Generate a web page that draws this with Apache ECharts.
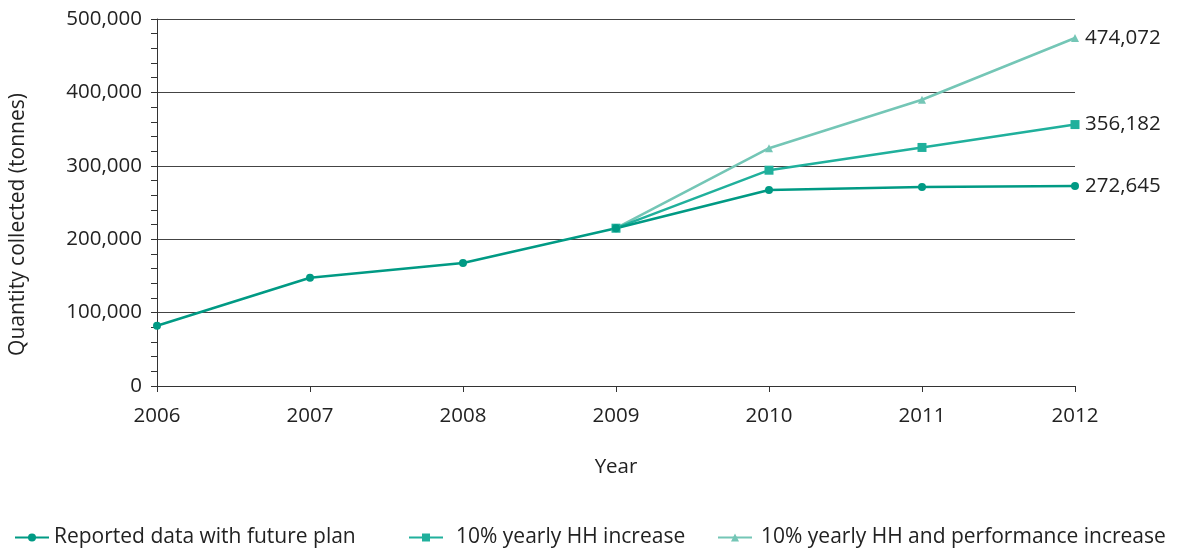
<!DOCTYPE html>
<html><head><meta charset="utf-8">
<script src="https://cdn.jsdelivr.net/npm/echarts@6/dist/echarts.min.js"></script>
<style>html,body{margin:0;padding:0;background:#fff}#c{width:1189px;height:549px}</style>
</head><body><div id="c"></div>
<script>
const years = ['2006','2007','2008','2009','2010','2011','2012'];
const reported = [82000, 147500, 167500, 215000, 267000, 271000, 272645];
const hhIncrease = [null, null, null, 215000, 294000, 325000, 356182];
const hhPerf = [null, null, null, 215000, 324000, 390000, 474072];
const seriesNames = ['Reported data with future plan', '10% yearly HH increase', '10% yearly HH and performance increase'];
const colors = ['#009a84', '#20b09c', '#74c6b6'];
const FONT = '"Open Sans", "Noto Sans", sans-serif';
const FS = 20.5;
const LFS = 21;

const chart = echarts.init(document.getElementById('c'));
function mk(name, data, color, symbol, size) {
  return {
    name, type: 'line', data, symbol, symbolSize: size, showSymbol: true,
    itemStyle: {color}, lineStyle: {color, width: 2.5},
    endLabel: {show: true, color: '#222', fontSize: FS, fontFamily: FONT, distance: 10,
      formatter: p => p.value == null ? '' : Number(p.value).toLocaleString('en-US')},
    z: 3
  };
}
function leg(name, left, pad) {
  return {
    left: left, top: 522, itemWidth: 34, itemHeight: 10, itemGap: 0,
    textStyle: {fontSize: LFS, color: '#222', fontFamily: FONT, padding: [0, 0, 0, pad]},
    data: [name]
  };
}
chart.setOption({
  animation: false,
  textStyle: {fontFamily: FONT},
  grid: {left: 155, right: 114, top: 19, bottom: 163, containLabel: false},
  legend: [leg(seriesNames[0], 9, 0), leg(seriesNames[1], 403, 8), leg(seriesNames[2], 712, 4)],
  xAxis: {
    type: 'category', data: years, boundaryGap: false,
    name: 'Year', nameLocation: 'middle', nameGap: 71,
    nameTextStyle: {fontSize: FS, color: '#222'},
    axisLine: {lineStyle: {color: '#333', width: 1}},
    axisTick: {show: true, length: 6, lineStyle: {color: '#333'}},
    axisLabel: {fontSize: FS, color: '#222', margin: 20}
  },
  yAxis: {
    type: 'value', min: 0, max: 500000, interval: 100000,
    name: 'Quantity collected (tonnes)', nameLocation: 'middle', nameGap: 128,
    nameTextStyle: {fontSize: LFS, color: '#222', padding: [0, 44, 0, 0]},
    axisLine: {show: true, lineStyle: {color: '#333', width: 1}},
    axisTick: {show: true, length: 6, lineStyle: {color: '#333'}},
    minorTick: {show: true, splitNumber: 5, length: 6, lineStyle: {color: '#333'}},
    splitLine: {show: true, lineStyle: {color: '#444', width: 1}},
    axisLabel: {fontSize: FS, color: '#222', margin: 15,
      formatter: v => Number(v).toLocaleString('en-US')}
  },
  series: [
    mk(seriesNames[2], hhPerf, colors[2], 'triangle', 8),
    mk(seriesNames[1], hhIncrease, colors[1], 'rect', 9),
    mk(seriesNames[0], reported, colors[0], 'circle', 8)
  ]
});
</script></body></html>
